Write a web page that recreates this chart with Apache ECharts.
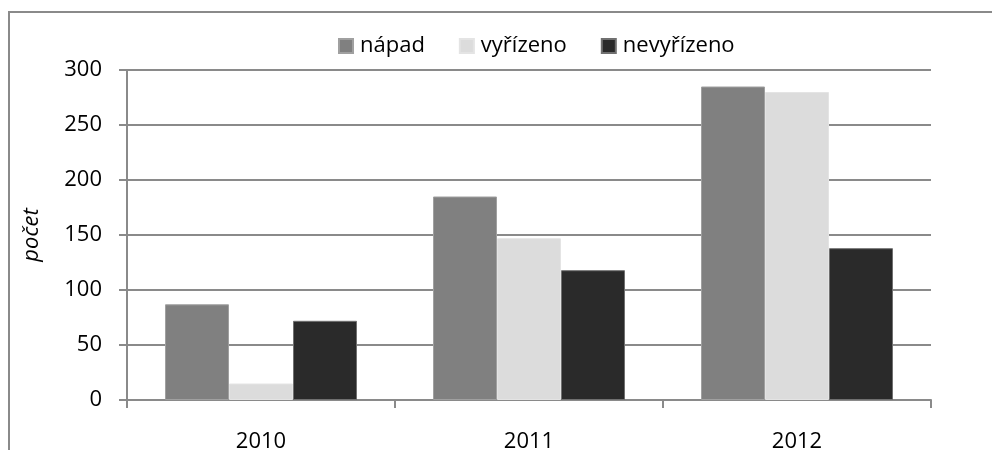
<!DOCTYPE html>
<html>
<head>
<meta charset="utf-8">
<script src="https://cdn.jsdelivr.net/npm/echarts@6/dist/echarts.min.js"></script>
<style>
  html, body { margin: 0; padding: 0; background: #fff; }
  #chart { width: 992px; height: 450px; }
</style>
</head>
<body>
<div id="chart"></div>
<script>
const years = ['2010', '2011', '2012'];
const napad = [87, 185, 285];
const vyrizeno = [15, 147, 280];
const nevyrizeno = [72, 118, 138];

const font = '"Open Sans", sans-serif';
const gridGray = '#8a8a8a';

const chart = echarts.init(document.getElementById('chart'));

chart.setOption({
  animation: false,
  textStyle: { fontFamily: font, color: '#000' },
  graphic: [{
    type: 'rect',
    shape: { x: 9, y: 12, width: 1000, height: 500 },
    style: { fill: 'none', stroke: gridGray, lineWidth: 2 },
    silent: true
  }],
  legend: {
    top: 30,
    left: 333,
    itemWidth: 14,
    itemHeight: 14,
    itemGap: 34,
    icon: 'rect',
    textStyle: { fontFamily: font, fontSize: 22, color: '#000', padding: [0, 0, 0, 2] }
  },
  grid: { left: 127, right: 61, top: 70, bottom: 50, containLabel: false, outerBoundsMode: 'none' },
  xAxis: {
    type: 'category',
    data: years,
    axisLine: { lineStyle: { color: gridGray, width: 2 } },
    axisTick: { show: true, length: 8, alignWithLabel: false, lineStyle: { color: gridGray, width: 2 } },
    axisLabel: { fontFamily: font, fontSize: 22, color: '#000', margin: 31 }
  },
  yAxis: {
    type: 'value',
    min: 0,
    max: 300,
    interval: 50,
    name: 'počet',
    nameLocation: 'middle',
    nameGap: 84,
    nameTextStyle: { fontFamily: font, fontSize: 22, fontStyle: 'italic', color: '#000' },
    axisLine: { show: true, lineStyle: { color: gridGray, width: 2 } },
    axisTick: { show: true, length: 8, lineStyle: { color: gridGray, width: 2 } },
    axisLabel: { fontFamily: font, fontSize: 22, color: '#000', margin: 25 },
    splitLine: { lineStyle: { color: gridGray, width: 2 } }
  },
  series: [
    {
      name: 'nápad',
      type: 'bar',
      data: napad,
      barWidth: 64,
      barGap: 0,
      itemStyle: { color: '#808080', borderColor: '#a0a0a0', borderWidth: 1 }
    },
    {
      name: 'vyřízeno',
      type: 'bar',
      data: vyrizeno,
      barWidth: 64,
      barGap: 0,
      itemStyle: { color: '#dcdcdc', borderColor: '#e4e4e4', borderWidth: 1 }
    },
    {
      name: 'nevyřízeno',
      type: 'bar',
      data: nevyrizeno,
      barWidth: 64,
      barGap: 0,
      itemStyle: { color: '#2a2a2a', borderColor: '#707070', borderWidth: 1 }
    }
  ]
});
</script>
</body>
</html>
